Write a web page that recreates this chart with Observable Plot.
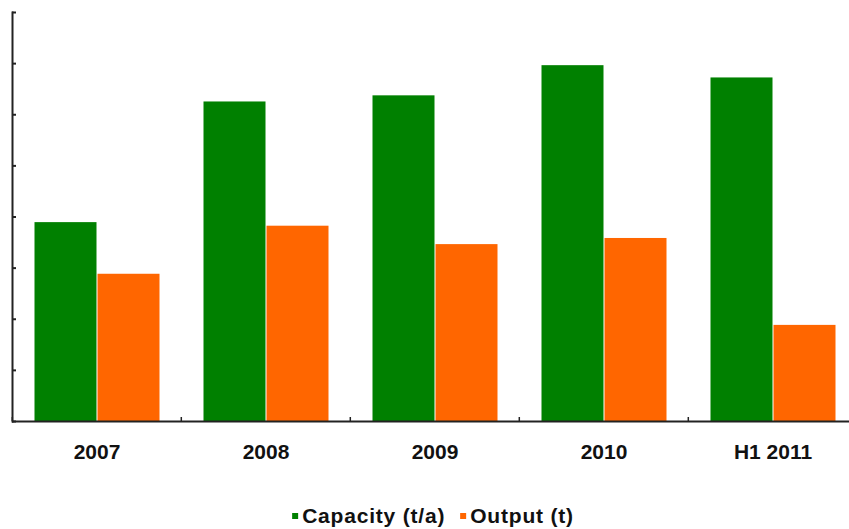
<!DOCTYPE html>
<html><head><meta charset="utf-8">
<script src="https://cdn.jsdelivr.net/npm/d3@7"></script>
<script src="https://cdn.jsdelivr.net/npm/@observablehq/plot@0.6"></script>
<style>
body{margin:0;background:#fff;font-family:"Liberation Sans",Arial,sans-serif;}
#chart{width:849px;height:480px;overflow:hidden;}
#legend{position:relative;width:849px;height:49px;}
#legend .inner{position:absolute;left:433px;top:26px;transform:translateX(-50%);display:flex;align-items:center;white-space:nowrap;font-weight:bold;font-size:21px;letter-spacing:0.8px;line-height:20px;color:#111;}
#legend .sw{display:inline-block;width:6px;height:6px;margin-right:4px;}
#legend .item{display:flex;align-items:center;margin-right:15px;}
#legend .item:last-child{margin-right:0;}
</style></head><body>
<div id="chart"></div>
<div id="legend"><div class="inner"></div></div>
<script>
const categories = ["2007", "2008", "2009", "2010", "H1 2011"];
const seriesNames = ["Capacity (t/a)", "Output (t)"];
const capacity = [3.89, 6.25, 6.37, 6.96, 6.72];
const output = [2.88, 3.82, 3.46, 3.58, 1.88];
const seriesColors = ["#008000", "#ff6600"];
const yTicks = [0, 1, 2, 3, 4, 5, 6, 7, 8];

const data = categories.flatMap((c, i) => [
  {year: c, series: seriesNames[0], value: capacity[i]},
  {year: c, series: seriesNames[1], value: output[i]}
]);

const W = 849, H = 480, mL = 11, mR = -9;
const step = (W - mL - mR) / categories.length;

const chart = Plot.plot({
  width: W, height: H,
  marginLeft: mL, marginRight: mR, marginTop: 12, marginBottom: 59,
  style: {fontFamily: "Liberation Sans, Arial, sans-serif", background: "#fff"},
  fx: {domain: categories, padding: 0, label: null},
  x: {domain: seriesNames, paddingInner: 0, paddingOuter: 0.323, axis: null},
  y: {domain: [0, 8], axis: null},
  color: {domain: seriesNames, range: seriesColors},
  marks: [
    Plot.barY(data, {fx: "year", x: "series", y: "value", fill: "series", insetLeft: 0.5, insetRight: 0.5}),
    Plot.ruleY([0], {stroke: "#222", strokeWidth: 2}),
    Plot.axisY({ticks: yTicks, anchor: "left", tickSize: -4, tickFormat: () => "", stroke: "#222", strokeWidth: 2, label: null}),
    Plot.frame({anchor: "left", facetAnchor: "left", stroke: "#222", strokeWidth: 2}),
    Plot.axisFx({anchor: "bottom", tickSize: -4, tickFormat: () => "", dx: -step / 2, stroke: "#222", strokeWidth: 1.5, label: null}),
    Plot.axisFx({anchor: "bottom", tickSize: 0, tickPadding: 23, fontSize: 21, fontWeight: "bold", fill: "#111", label: null})
  ]
});
document.getElementById("chart").appendChild(chart);

const inner = document.querySelector("#legend .inner");
seriesNames.forEach((s, i) => {
  const item = document.createElement("span");
  item.className = "item";
  const sw = document.createElement("span");
  sw.className = "sw";
  sw.style.background = seriesColors[i];
  item.appendChild(sw);
  item.appendChild(document.createTextNode(s));
  inner.appendChild(item);
});
</script>
</body></html>
